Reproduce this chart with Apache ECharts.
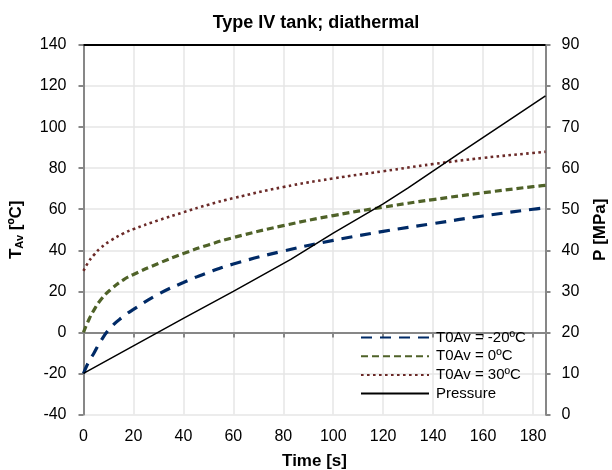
<!DOCTYPE html>
<html>
<head>
<meta charset="utf-8">
<script src="https://cdn.jsdelivr.net/npm/echarts@6/dist/echarts.min.js"></script>
<style>
  html, body { margin: 0; padding: 0; background: #fff; }
  #chart { width: 612px; height: 470px; }
</style>
</head>
<body>
<div id="chart"></div>
<script>
// Time samples [s]
const timeS = [0, 2, 4, 7, 11, 16, 20, 30, 40, 50, 60, 80, 100, 120, 140, 160, 180, 185];
// Average gas temperature [ºC] for each initial temperature
const tempMinus20 = [-20, -14.5, -10.5, -4, 2.5, 7.8, 11.2, 18.6, 24.3, 29.2, 33.3, 39.6, 44.8, 49.2, 53, 56.7, 60, 60.7];
const temp0 = [0, 5.8, 10.5, 16, 21, 25.6, 28.2, 33.6, 38.4, 42.6, 46.2, 52, 56.9, 61, 64.7, 68, 71, 71.6];
const temp30 = [30, 34.3, 37.5, 41.3, 44.8, 48.2, 50.3, 54.6, 58.5, 62.2, 65.4, 70.8, 75, 78.5, 82, 85, 87.4, 88];
// Tank pressure [MPa]
const pressureTime = [0, 20, 40, 60, 83, 100, 120, 130, 150, 170, 185];
const pressure = [10, 16.7, 23.4, 30, 37.8, 44.2, 51.3, 55.2, 63.4, 71.5, 77.6];

const seriesNames = ['T0Av = -20ºC', 'T0Av = 0ºC', 'T0Av = 30ºC', 'Pressure'];
const titleText = 'Type IV tank; diathermal';
const xName = 'Time [s]';
const rightName = 'P [MPa]';

const FONT = "'Liberation Sans', Arial, sans-serif";
const pair = (xs, ys) => xs.map((x, i) => [x, ys[i]]);

const chart = echarts.init(document.getElementById('chart'), null, { renderer: 'canvas' });

const axisLineStyle = { color: '#878787', width: 2 };
const gridLine = { show: true, lineStyle: { color: '#e6e6e6', width: 1.5 } };
const labelStyle = { color: '#000', fontSize: 16, fontFamily: FONT };

chart.setOption({
  animation: false,
  backgroundColor: '#fff',
  title: {
    text: titleText,
    left: 311, top: 9, textAlign: 'center',
    textStyle: { fontSize: 18, fontWeight: 'bold', color: '#000', fontFamily: FONT }
  },
  grid: {
    left: 83.5, right: 66.5, top: 45, bottom: 55.5,
    containLabel: false, outerBoundsMode: 'none'
  },
  legend: {
    orient: 'vertical',
    left: 355, top: 325,
    itemWidth: 68, itemHeight: 14, itemGap: 3.7,
    data: seriesNames,
    itemStyle: { opacity: 0, borderWidth: 0 },
    textStyle: { fontSize: 15, color: '#000', fontFamily: FONT, padding: [0, 0, 0, 2] }
  },
  xAxis: [{
    type: 'value', min: 0, max: 185, interval: 20,
    name: xName, nameLocation: 'middle', nameGap: 38,
    nameTextStyle: { fontSize: 17, fontWeight: 'bold', color: '#000', fontFamily: FONT },
    axisLine: { show: true, lineStyle: axisLineStyle },
    axisTick: { show: true, length: 5, lineStyle: axisLineStyle },
    axisLabel: Object.assign({ margin: 14, showMaxLabel: false }, labelStyle),
    splitLine: gridLine
  }, {
    type: 'value', min: 0, max: 185, position: 'top',
    axisLine: { show: true, onZero: false, lineStyle: { color: '#000', width: 2 } },
    axisTick: { show: false }, axisLabel: { show: false }, splitLine: { show: false }
  }],
  yAxis: [{
    type: 'value', min: -40, max: 140, interval: 20,
    name: '{b|T}{s|Av}{b| [ºC]}', nameLocation: 'middle', nameGap: 58, nameRotate: 90,
    nameTextStyle: {
      rich: {
        b: { fontSize: 17, fontWeight: 'bold', color: '#000', fontFamily: FONT },
        s: { fontSize: 11, fontWeight: 'bold', color: '#000', fontFamily: FONT, padding: [8, 0, 0, 0] }
      }
    },
    axisLine: { show: true, onZero: false, lineStyle: axisLineStyle },
    axisTick: { show: true, length: 5, lineStyle: axisLineStyle },
    axisLabel: Object.assign({ margin: 17 }, labelStyle),
    splitLine: gridLine
  }, {
    type: 'value', min: 0, max: 90, interval: 10, position: 'right',
    name: rightName, nameLocation: 'middle', nameGap: 46, nameRotate: 90,
    nameTextStyle: { fontSize: 17, fontWeight: 'bold', color: '#000', fontFamily: FONT },
    axisLine: { show: true, onZero: false, lineStyle: axisLineStyle },
    axisTick: { show: true, length: 5, lineStyle: axisLineStyle },
    axisLabel: Object.assign({ margin: 16 }, labelStyle),
    splitLine: { show: false }
  }],
  series: [{
    name: seriesNames[0], type: 'line', yAxisIndex: 0, symbol: 'none', smooth: 0.5,
    data: pair(timeS, tempMinus20),
    lineStyle: { color: '#002a66', width: 3.2, type: [11, 8], cap: 'butt' },
    itemStyle: { color: '#002a66' }
  }, {
    name: seriesNames[1], type: 'line', yAxisIndex: 0, symbol: 'none', smooth: 0.5,
    data: pair(timeS, temp0),
    lineStyle: { color: '#4f6228', width: 3.2, type: [7, 4], cap: 'butt' },
    itemStyle: { color: '#4f6228' }
  }, {
    name: seriesNames[2], type: 'line', yAxisIndex: 0, symbol: 'none', smooth: 0.5,
    data: pair(timeS, temp30),
    lineStyle: { color: '#6b2a28', width: 2.6, type: [2.6, 3.4], cap: 'butt' },
    itemStyle: { color: '#6b2a28' }
  }, {
    name: seriesNames[3], type: 'line', yAxisIndex: 1, symbol: 'none',
    data: pair(pressureTime, pressure),
    lineStyle: { color: '#000', width: 1.5 },
    itemStyle: { color: '#000' }
  }]
});
</script>
</body>
</html>
